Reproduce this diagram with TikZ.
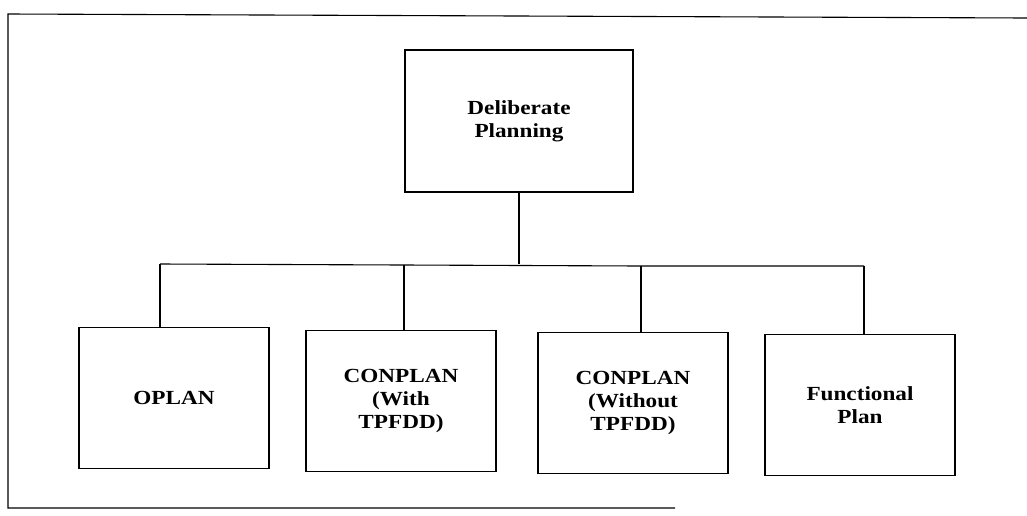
\documentclass[tikz,border=0pt]{standalone}
\usepackage{fontspec}
\newfontfamily\boxfont[FakeStretch=1.16]{Liberation Serif}
\usetikzlibrary{calc}
\begin{document}
\begin{tikzpicture}[x=1pt,y=-1pt,line width=1.1pt,
  planbox/.style={draw,minimum width=190pt,minimum height=141pt,align=center,
    font=\boxfont\bfseries\fontsize{20}{23}\selectfont}]
\useasboundingbox (0,0) rectangle (1027,515);
% open frame round the chart
\draw (675,508) -- (8,508) -- (8,14) -- (1027,18);
% boxes
\node[planbox,minimum width=228pt,minimum height=142pt] (delib) at (519,121) {Deliberate\\Planning};
\node[planbox] (oplan) at (174,398) {OPLAN};
\node[planbox] (conwith) at (401,401) {CONPLAN\\(With\\TPFDD)};
\node[planbox] (conwo) at (633,403) {CONPLAN\\(Without\\TPFDD)};
\node[planbox] (func) at (860,405) {Functional\\Plan};
% bus
\coordinate (j1) at (160,264);
\coordinate (j2) at (404,265);
\coordinate (j3) at (641,266);
\coordinate (j4) at (864,266);
\draw (j1) -- (j2) -- (j3) -- (j4);
\draw (delib.south) -- (delib.south |- j1);
\draw (j1) -- (j1 |- oplan.north);
\draw (j2) -- (j2 |- conwith.north);
\draw (j3) -- (j3 |- conwo.north);
\draw (j4) -- (j4 |- func.north);
\end{tikzpicture}
\end{document}
